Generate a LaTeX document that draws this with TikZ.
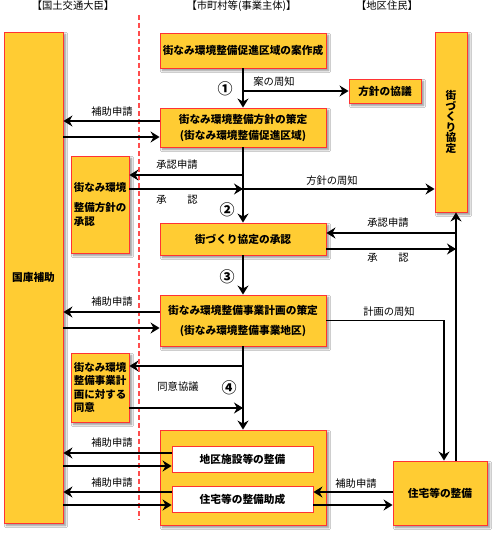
\documentclass[tikz,border=0pt]{standalone}
\usepackage{fontspec}
\setmainfont{Noto Sans CJK JP}
\usetikzlibrary{arrows.meta,shadows.blur}
\definecolor{boxfill}{HTML}{FFCC33}
\definecolor{boxline}{HTML}{FF3333}
\definecolor{dashred}{HTML}{FF4D4D}
\begin{document}
\begin{tikzpicture}[x=1pt,y=-1pt,
  box/.style={draw=boxline, fill=boxfill, line width=0.9pt, inner sep=2pt,
    font=\fontsize{10.7}{16}\selectfont\bfseries,
    blur shadow={shadow xshift=2.5pt, shadow yshift=-2.5pt, shadow opacity=45, shadow blur steps=6}},
  wbox/.style={draw=boxline, fill=white, line width=0.9pt, inner sep=2pt,
    font=\fontsize{10.7}{12}\selectfont\bfseries, minimum width=141pt, minimum height=26pt},
  arr/.style={line width=1.3pt, -{Stealth[length=9pt,width=11pt,inset=3pt]}},
  lbl/.style={font=\fontsize{10.3}{10}\selectfont, inner sep=0pt},
  num/.style={font=\fontsize{15}{15}\selectfont\bfseries, inner sep=0pt},
  hdr/.style={font=\fontsize{10.3}{10}\selectfont, inner sep=0pt}]
\useasboundingbox (0,0) rectangle (500,540);
\fill[white] (0,0) rectangle (500,540);

% headers
\node[hdr] (hd1) at (73,6) {【国土交通大臣】};
\node[hdr] (hd2) at (241.5,6) {【市町村等(事業主体)】};
\node[hdr] (hd3) at (387,6) {【地区住民】};

% dashed divider
\coordinate (dtop) at (139,15);
\coordinate (dbot) at (139,520);
\draw[dashred, line width=1.3pt, dash pattern=on 5pt off 3pt] (dtop) -- (dbot);

% boxes
\node[box, minimum width=59pt, minimum height=491pt] (big) at (33.5,277.5) {国庫補助};
\node[box, minimum width=166pt, minimum height=35pt] (b1) at (243,50.5) {街なみ環境整備促進区域の案作成};
\node[box, align=center, minimum width=166pt, minimum height=39pt] (b2) at (243,127.5) {街なみ環境整備方針の策定\\(街なみ環境整備促進区域)};
\node[box, minimum width=72pt, minimum height=24pt] (kyogi) at (385,91) {方針の協議};
\node[box, align=center, minimum width=32pt, minimum height=180pt, font=\fontsize{10.7}{10.5}\selectfont\bfseries] (kyotei) at (451,122) {街\\づ\\く\\り\\協\\定};
\node[box, align=left, minimum width=58pt, minimum height=97pt, font=\fontsize{10.5}{14}\selectfont\bfseries] (s1) at (100,204.5) {街なみ環境\\[6pt]整備方針の\\承認};
\node[box, minimum width=166pt, minimum height=32pt] (b3) at (243,239) {街づくり協定の承認};
\node[box, align=center, minimum width=166pt, minimum height=51pt, font=\fontsize{10.7}{20}\selectfont\bfseries] (b4) at (243,320.5) {街なみ環境整備事業計画の策定\\(街なみ環境整備事業地区)};
\node[box, align=left, minimum width=58pt, minimum height=69pt, font=\fontsize{10.5}{13.5}\selectfont\bfseries] (s2) at (100,387.5) {街なみ環境\\整備事業計\\画に対する\\同意};
\node[box, minimum width=166pt, minimum height=95pt] (b5) at (243,477.5) {};
\node[wbox] (i1) at (242.5,459) {地区施設等の整備};
\node[wbox] (i2) at (242.5,499) {住宅等の整備助成};
\node[box, minimum width=94pt, minimum height=64pt] (jutaku) at (440,493) {住宅等の整備};

% main flow
\draw[arr] (b1.south) -- (b2.north);
\coordinate (m1) at (243,91);
\draw[arr] (m1) -- (kyogi.west);
\node[lbl] (l1) at (274,82) {案の周知};
\node[num] (n1) at (225,89) {①};

\coordinate (h1) at (0,121);
\coordinate (h2) at (0,137);
\draw[arr] (b2.west |- h1) -- (big.east |- h1);
\draw[arr] (big.east |- h2) -- (b2.west |- h2);
\node[lbl] (l2) at (112,112) {補助申請};

\draw[arr] (b2.south) -- (b3.north);
\coordinate (m2) at (243,175);
\draw[arr] (m2) -- (s1.east |- m2);
\node[lbl] (l3) at (177,165) {承認申請};
\coordinate (m3) at (243,189);
\draw[arr] (s1.east |- m3) -- (m3);
\node[lbl] (l4) at (177,200) {承\hspace{2em}認};
\draw[arr] (m3) -- (kyotei.west |- m3);
\node[lbl] (l5) at (332,181) {方針の周知};
\node[num] (n2) at (227,210) {②};

% right vertical lines
\coordinate (up) at ([xshift=16pt]jutaku.north);
\draw[arr] (up) -- (up |- kyotei.south);
\coordinate (r1) at (456,233);
\coordinate (r2) at (456,249);
\draw[arr] (r1) -- (b3.east |- r1);
\draw[arr] (b3.east |- r2) -- (r2);
\node[lbl] (l6) at (388,223) {承認申請};
\node[lbl] (l7) at (388,258) {承\hspace{2em}認};

\draw[arr] (b3.south) -- (b4.north);
\node[num] (n3) at (227,277) {③};
\coordinate (h3) at (0,312);
\coordinate (h4) at (0,328);
\draw[arr] (b4.west |- h3) -- (big.east |- h3);
\draw[arr] (big.east |- h4) -- (b4.west |- h4);
\node[lbl] (l8) at (112,302) {補助申請};
\coordinate (dn) at ([xshift=4pt]jutaku.north);
\draw[arr] (b4.east) -| (dn);
\node[lbl] (l9) at (389,312) {計画の周知};

\draw[arr] (b4.south) -- (b5.north);
\coordinate (m4) at (243,366);
\coordinate (m5) at (243,408);
\draw[arr] (m4) -- (s2.east |- m4);
\draw[arr] (s2.east |- m5) -- (m5);
\node[lbl] (l10) at (178,387) {同意協議};
\node[num] (n4) at (229,388) {④};

% bottom
\coordinate (h5) at (0,453);
\coordinate (h6) at (0,466);
\coordinate (h7) at (0,492);
\coordinate (h8) at (0,505);
\draw[arr] (i1.west |- h5) -- (big.east |- h5);
\draw[arr] (big.east |- h6) -- (i1.west |- h6);
\draw[arr] (i2.west |- h7) -- (big.east |- h7);
\draw[arr] (big.east |- h8) -- (i2.west |- h8);
\draw[arr] (jutaku.west |- h7) -- (i2.east |- h7);
\draw[arr] (i2.east |- h8) -- (jutaku.west |- h8);
\node[lbl] (l11) at (112,443) {補助申請};
\node[lbl] (l12) at (112,483) {補助申請};
\node[lbl] (l13) at (356,484) {補助申請};
\end{tikzpicture}
\end{document}
